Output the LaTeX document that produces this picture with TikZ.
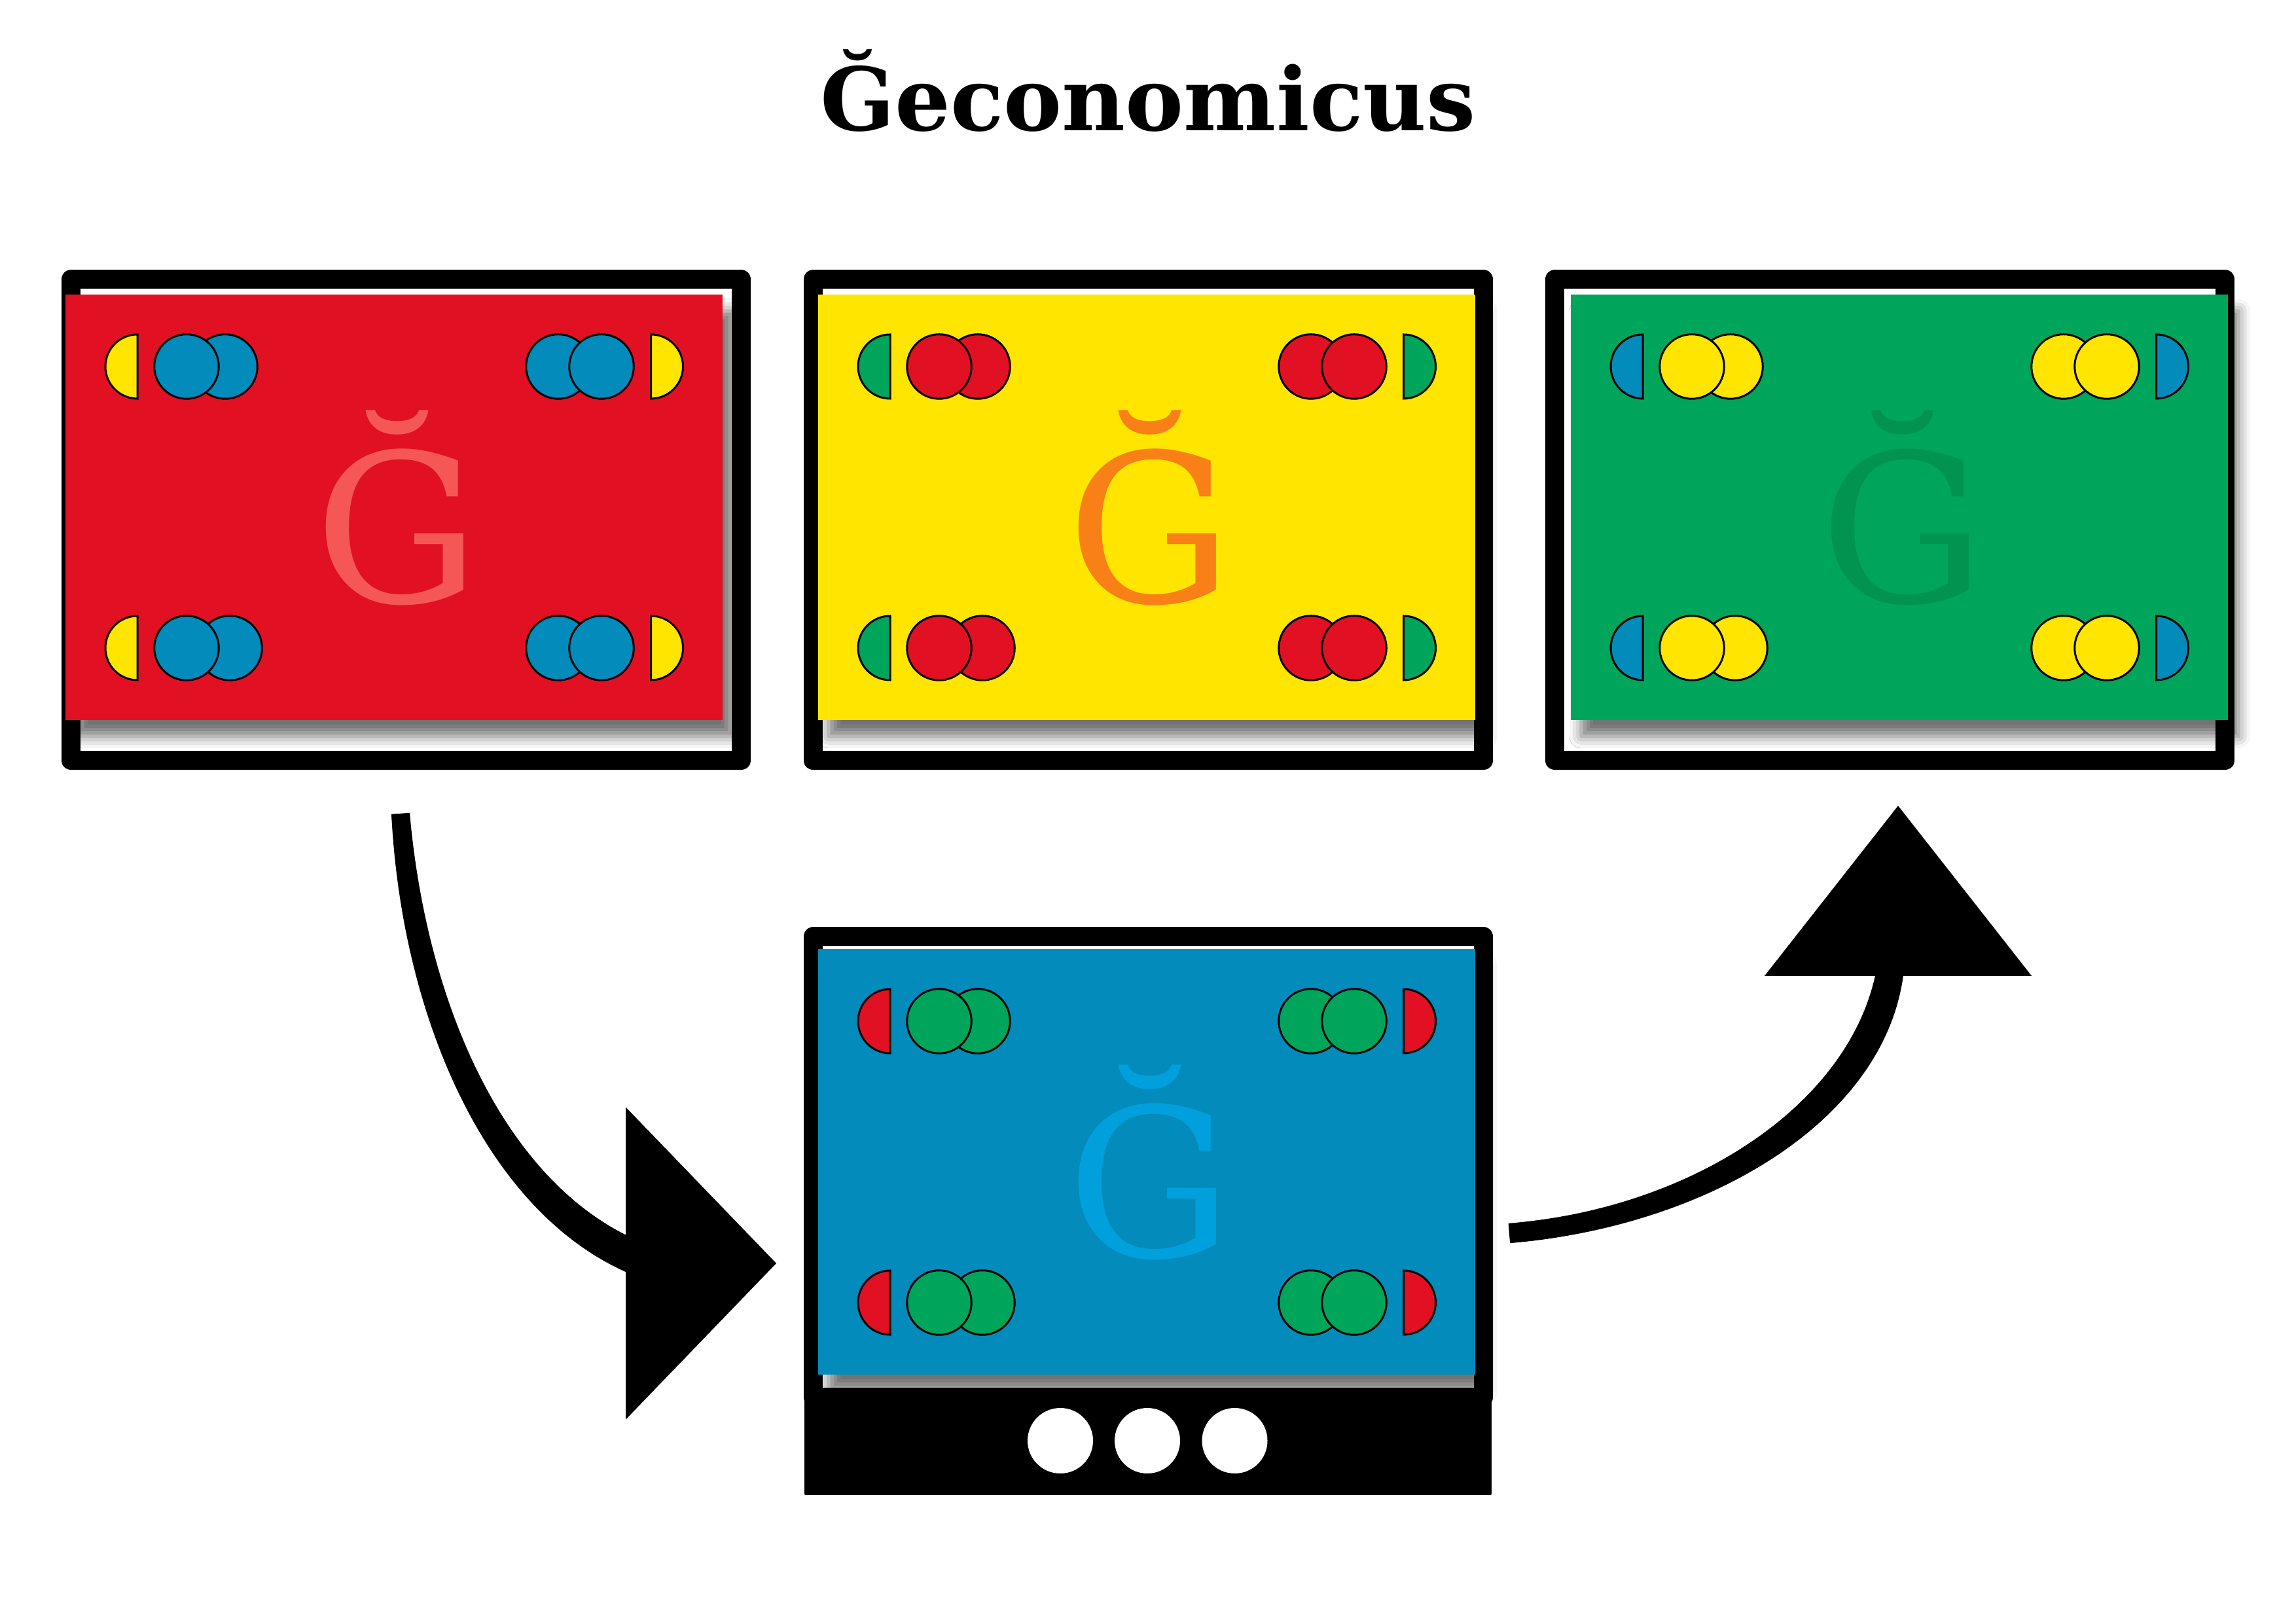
\documentclass[tikz,border=0pt]{standalone}
\usepackage{fontspec}
\setmainfont{DejaVu Serif}
\usetikzlibrary{arrows.meta,shadows.blur}
\definecolor{gred}{HTML}{E11123}
\definecolor{gyellow}{HTML}{FFE500}
\definecolor{ggreen}{HTML}{00A55C}
\definecolor{gblue}{HTML}{028BBB}
\definecolor{lred}{HTML}{F55757}
\definecolor{lyellow}{HTML}{F97F17}
\definecolor{lgreen}{HTML}{009450}
\definecolor{lblue}{HTML}{00A0DC}
\tikzset{
	framebox/.style={draw=black,fill=white,line width=.29cm,line join=round,minimum width=10.24cm,minimum height=7.35cm,inner sep=0},
	cardbox/.style={minimum width=10.04cm,minimum height=6.5cm,inner sep=0,blur shadow={shadow xshift=.16cm,shadow yshift=-.25cm,shadow blur radius=.18cm,shadow opacity=55}},
	tokendot/.style={circle,draw=black,line width=.03cm,minimum size=.985cm,inner sep=0},
	tokenhalf/.style={draw=black,line width=.03cm},
	holedot/.style={circle,fill=white,minimum size=1cm,inner sep=0},
	flowline/.style={draw=black,line width=.28cm},
	flowhead/.style={draw=black,line width=.01cm}
}
\begin{document}
\begin{tikzpicture}
	\useasboundingbox (0,0) rectangle (35.08,24.8);
	\node [anchor=base,font=\bfseries\fontsize{38pt}{40pt}\selectfont] (title) at (17.54,22.8) {Ğeconomicus};

	\node [framebox] (framered) at (6.205,16.855) {};
	\node [framebox] (frameyellow) at (17.545,16.855) {};
	\node [framebox] (framegreen) at (28.875,16.855) {};
	\node [framebox,minimum height=7.04cm] (frameblue) at (17.545,6.97) {};
	\node [draw=black,fill=black,line width=.04cm,line join=round,minimum width=10.46cm,minimum height=1.59cm,inner sep=0] (barblue) at (17.54,2.775) {};
	\node [holedot] (holea) at (16.2,2.79) {};
	\node [holedot] (holeb) at (17.53,2.79) {};
	\node [holedot] (holec) at (18.865,2.79) {};

	\foreach \name/\x/\y/\cardcol/\halfcol/\dotcol/\lettercol in {red/6.02/17.05/gred/gyellow/gblue/lred,yellow/17.52/17.05/gyellow/ggreen/gred/lyellow,green/29.02/17.05/ggreen/gblue/gyellow/lgreen,blue/17.52/7.05/gblue/gred/ggreen/lblue} {
		\node [cardbox,fill=\cardcol] (card\name) at (\x,\y) {};
		\begin{scope}[shift={(\x,\y)}]
			\draw [tokenhalf,fill=\halfcol] (-3.92,2.64) arc (90:270:.49) -- cycle;
			\draw [tokenhalf,fill=\halfcol] (-3.92,-1.66) arc (90:270:.49) -- cycle;
			\draw [tokenhalf,fill=\halfcol] (3.925,2.64) arc (90:-90:.49) -- cycle;
			\draw [tokenhalf,fill=\halfcol] (3.925,-1.66) arc (90:-90:.49) -- cycle;
			\node [tokendot,fill=\dotcol] (\name backa) at (-2.58,2.15) {};
			\node [tokendot,fill=\dotcol] (\name fronta) at (-3.17,2.15) {};
			\node [tokendot,fill=\dotcol] (\name backb) at (2.51,2.15) {};
			\node [tokendot,fill=\dotcol] (\name frontb) at (3.17,2.15) {};
			\node [tokendot,fill=\dotcol] (\name backc) at (-2.51,-2.15) {};
			\node [tokendot,fill=\dotcol] (\name frontc) at (-3.17,-2.15) {};
			\node [tokendot,fill=\dotcol] (\name backd) at (2.51,-2.15) {};
			\node [tokendot,fill=\dotcol] (\name frontd) at (3.17,-2.15) {};
			\node [anchor=base,inner sep=0,text=\lettercol,font=\fontsize{90pt}{90pt}\selectfont] (letter\name) at (.045,-1.46) {Ğ};
		\end{scope}
	}

	\coordinate (redout) at (6.12,12.37);
	\coordinate (bluein) at (9.56,5.5);
	\coordinate (bluetip) at (11.86,5.5);
	\coordinate (blueout) at (23.06,5.96);
	\coordinate (greenin) at (29,9.89);
	\coordinate (greentip) at (29,12.49);

	\draw [flowline] (redout) .. controls (6.4,9.2) and (7.75,6.35) .. (10,5.6);
	\draw [flowline] (redout) .. controls (6.28,9.2) and (7.65,6.1) .. (10,5.35);
	\draw [flowhead,-{Triangle[length=2.3cm,width=4.77cm]}] (bluein) -- (bluetip);

	\draw [flowline,line width=.3cm] (blueout) .. controls (26,6.2) and (28.52,7.9) .. (28.84,10.1);
	\draw [flowline,line width=.3cm] (blueout) .. controls (26,6.2) and (28.78,7.8) .. (28.95,10.1);
	\draw [flowhead,-{Triangle[length=2.6cm,width=4.08cm]}] (greenin) -- (greentip);
\end{tikzpicture}
\end{document}
